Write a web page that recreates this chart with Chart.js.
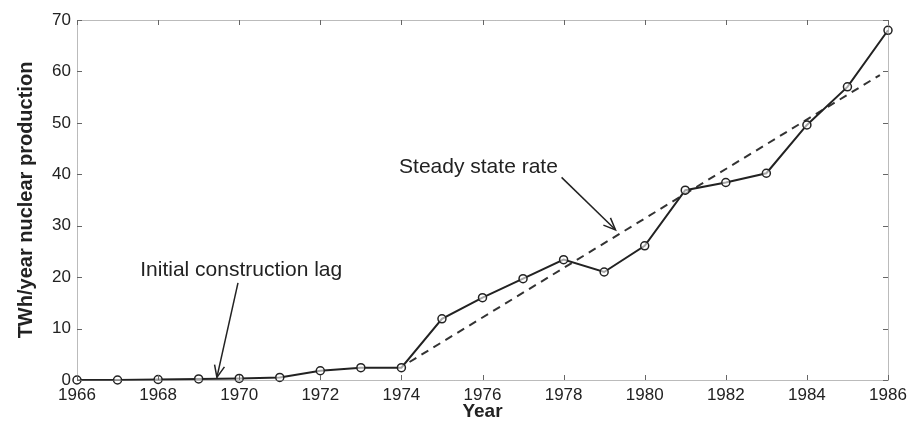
<!DOCTYPE html>
<html><head><meta charset="utf-8">
<script src="https://cdn.jsdelivr.net/npm/chart.js@4.4.1/dist/chart.umd.min.js"></script>
<style>html,body{margin:0;padding:0;background:#fff}#wrap{width:916px;height:423px}</style>
</head><body><div id="wrap"><canvas id="c" width="916" height="423"></canvas></div>
<script>
const years = [1966,1967,1968,1969,1970,1971,1972,1973,1974,1975,1976,1977,1978,1979,1980,1981,1982,1983,1984,1985,1986];
const production = [0,0,0.1,0.2,0.3,0.5,1.8,2.4,2.4,11.9,16.0,19.7,23.4,21.0,26.1,36.9,38.4,40.2,49.6,57.0,68.0];
const trendX = [1974.2,1985.8];
const trendY = [3.5,59.3];
const xTicks = [1966,1968,1970,1972,1974,1976,1978,1980,1982,1984,1986];
const yTicks = [0,10,20,30,40,50,60,70];
const notes = [
  {text:'Initial construction lag', x:1970.05, y:21.4, fromX:1969.97, fromY:18.9, toX:1969.45, toY:0.5},
  {text:'Steady state rate', x:1975.9, y:41.3, fromX:1977.95, fromY:39.4, toX:1979.28, toY:29.2}
];

const FONT = '"Liberation Sans", Arial, sans-serif';
const ink = '#222';

const decor = {
  id:'decor',
  afterDraw(chart){
    const {ctx, chartArea:a, scales:{x,y}} = chart;
    ctx.save();
    ctx.strokeStyle = '#777'; ctx.lineWidth = 1; ctx.setLineDash([1,1]);
    ctx.strokeRect(a.left+0.5, a.top+0.5, a.right-a.left, a.bottom-a.top);
    ctx.setLineDash([]);
    ctx.strokeStyle = '#666';
    xTicks.forEach(v=>{const px=Math.round(x.getPixelForValue(v))+0.5;
      ctx.beginPath();ctx.moveTo(px,a.bottom);ctx.lineTo(px,a.bottom-5);ctx.moveTo(px,a.top);ctx.lineTo(px,a.top+5);ctx.stroke();});
    yTicks.forEach(v=>{const py=Math.round(y.getPixelForValue(v))+0.5;
      ctx.beginPath();ctx.moveTo(a.left,py);ctx.lineTo(a.left+5,py);ctx.moveTo(a.right,py);ctx.lineTo(a.right-5,py);ctx.stroke();});
    ctx.fillStyle = ink; ctx.strokeStyle = ink; ctx.lineWidth = 1.5;
    ctx.font = '21px ' + FONT; ctx.textAlign='center'; ctx.textBaseline='middle';
    notes.forEach(n=>{
      ctx.fillText(n.text, x.getPixelForValue(n.x), y.getPixelForValue(n.y));
      const x1=x.getPixelForValue(n.fromX), y1=y.getPixelForValue(n.fromY);
      const x2=x.getPixelForValue(n.toX), y2=y.getPixelForValue(n.toY);
      ctx.beginPath();ctx.moveTo(x1,y1);ctx.lineTo(x2,y2);ctx.stroke();
      const ang=Math.atan2(y2-y1,x2-x1), L=13, s=0.4;
      ctx.beginPath();
      ctx.moveTo(x2-L*Math.cos(ang-s), y2-L*Math.sin(ang-s));
      ctx.lineTo(x2,y2);
      ctx.lineTo(x2-L*Math.cos(ang+s), y2-L*Math.sin(ang+s));
      ctx.stroke();
    });
    ctx.restore();
  }
};

new Chart(document.getElementById('c'), {
  type:'scatter',
  data:{datasets:[
    {data: years.map((v,i)=>({x:v,y:production[i]})), showLine:true, borderColor:ink, borderWidth:2,
     pointRadius:4, pointBorderWidth:1.5, pointBackgroundColor:'rgba(255,255,255,0.6)', pointBorderColor:ink, tension:0, clip:false},
    {data: trendX.map((v,i)=>({x:v,y:trendY[i]})), showLine:true, borderColor:'#333', borderWidth:2,
     borderDash:[8,6], pointRadius:0, clip:false}
  ]},
  options:{
    responsive:false, animation:false,
    layout:{padding:{top:20,right:28,left:6,bottom:0}},
    plugins:{legend:{display:false},tooltip:{enabled:false}},
    scales:{
      x:{type:'linear', min:1966, max:1986,
        afterBuildTicks(s){s.ticks = xTicks.map(v=>({value:v}));},
        afterFit(s){s.height = 423-380;},
        grid:{display:false, drawTicks:false}, border:{display:false},
        ticks:{color:ink, font:{family:FONT,size:17}, padding:5, maxRotation:0, autoSkip:false, callback:v=>String(v)},
        title:{display:true, text:'Year', color:ink, font:{family:FONT,size:19,weight:'bold'}, padding:{top:0,bottom:0}}
      },
      y:{type:'linear', min:0, max:70,
        afterBuildTicks(s){s.ticks = yTicks.map(v=>({value:v}));},
        afterFit(s){s.width = 77-6;},
        grid:{display:false, drawTicks:false}, border:{display:false},
        ticks:{color:ink, font:{family:FONT,size:17}, padding:6},
        title:{display:true, text:'TWh/year nuclear production', color:ink, font:{family:FONT,size:20,weight:'bold'}, padding:{top:8,bottom:0}}
      }
    }
  },
  plugins:[decor]
});
</script></body></html>
